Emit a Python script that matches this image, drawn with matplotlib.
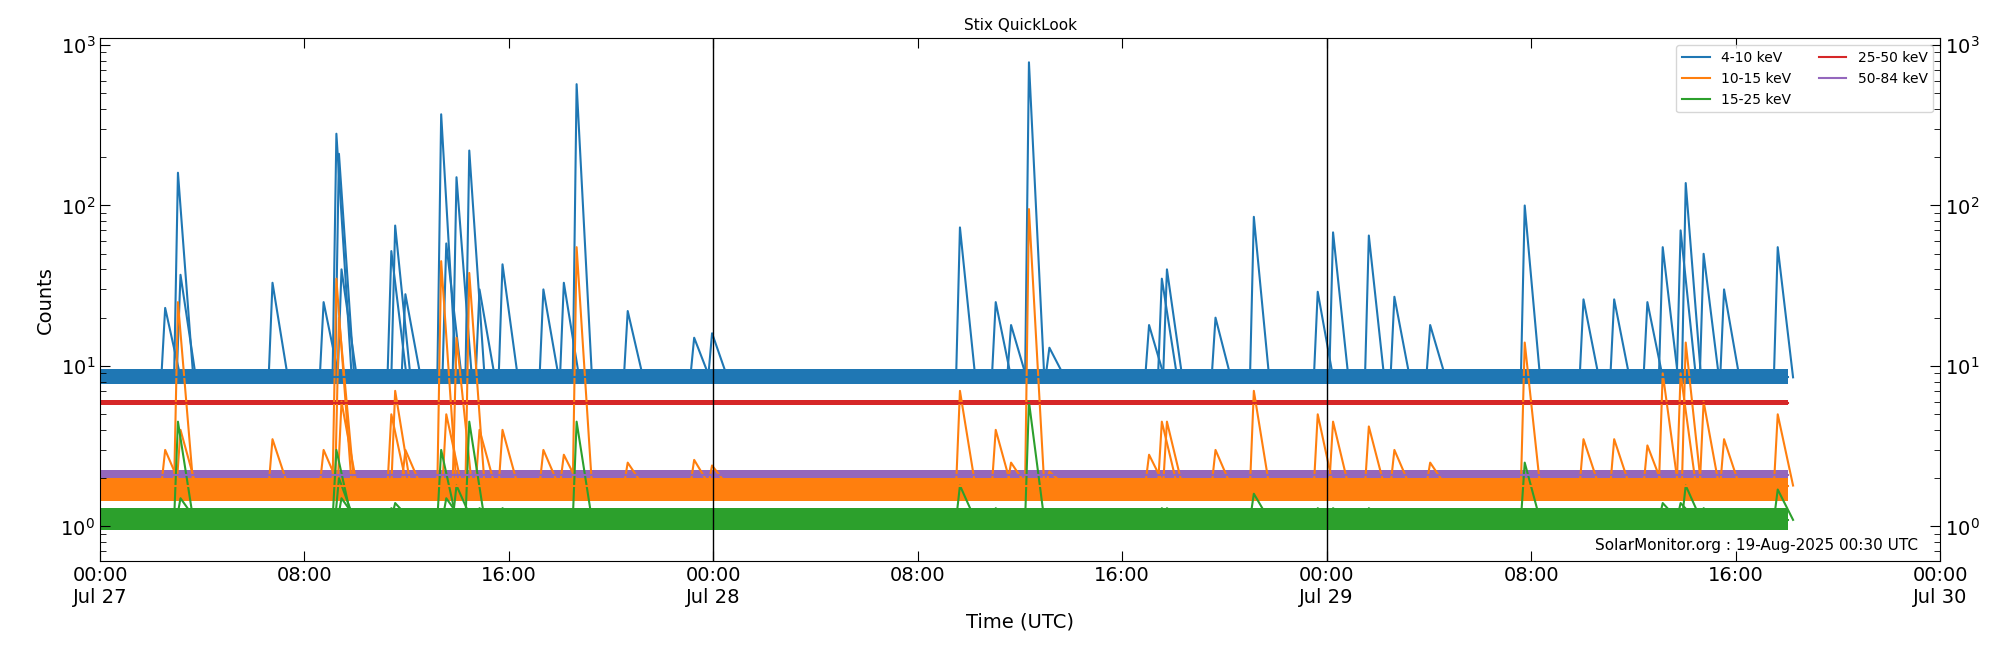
import matplotlib.pyplot as plt

# flare peaks: time (hours since 2025-07-27 00:00 UTC) and counts
peak_t = [2.55, 3.05, 3.15, 6.75, 8.75, 9.25, 9.35, 9.45, 11.4, 11.55, 11.95, 13.35, 13.55, 13.95,
          14.45, 14.85, 15.75, 17.35, 18.15, 18.65, 20.65, 23.25, 23.95, 33.65, 35.05, 35.65, 36.35,
          37.15, 41.05, 41.55, 41.75, 43.65, 45.15, 47.65, 48.25, 49.65, 50.65, 52.05, 55.75, 58.05,
          59.25, 60.55, 61.15, 61.85, 62.05, 62.75, 63.55, 65.65]
blue_pk = [23, 160, 37, 33, 25, 280, 210, 40, 52, 75, 28, 370, 58, 150, 220, 30,
           43, 30, 33, 570, 22, 15, 16, 73, 25, 18, 780, 13, 18, 35, 40,
           20, 85, 29, 68, 65, 27, 18, 100, 26, 26, 25, 55, 70, 138, 50,
           30, 55]
orange_pk = [3, 25, 4, 3.5, 3, 35, 20, 6, 5, 7, 3, 45, 5, 15, 38, 4,
             4, 3, 2.8, 55, 2.5, 2.6, 2.4, 7, 4, 2.5, 95, 2.2, 2.8, 4.5, 4.5,
             3, 7, 5, 4.5, 4.2, 3, 2.5, 14, 3.5, 3.5, 3.2, 9, 9, 14, 6,
             3.5, 5]
green_pk = [1.2, 4.5, 1.5, 1.2, 1.2, 3.0, 2.0, 1.5, 1.3, 1.4, 1.2, 3.0, 1.5, 1.8, 4.5, 1.3,
            1.3, 1.2, 1.2, 4.5, 1.2, 1.2, 1.2, 1.8, 1.3, 1.2, 6.0, 1.2, 1.2, 1.3, 1.3,
            1.2, 1.6, 1.3, 1.3, 1.3, 1.2, 1.2, 2.5, 1.2, 1.2, 1.2, 1.4, 1.4, 1.8, 1.3,
            1.2, 1.7]
rise = 0.15   # hours
decay = 0.6

t_flat = [0.0, 66.05]
base = {"tab:blue": 8.5, "tab:orange": 1.8, "tab:green": 1.1, "tab:purple": 2.1, "tab:red": 5.9}
# spread of the counting noise around each flat level
bands = {"tab:blue": (7.7, 9.6), "tab:orange": (1.45, 2.15), "tab:green": (0.95, 1.3),
         "tab:purple": (2.0, 2.25), "tab:red": (5.7, 6.1)}

xticks = list(range(0, 73, 8))
xlabels = ["00:00\nJul 27", "08:00", "16:00", "00:00\nJul 28", "08:00", "16:00",
           "00:00\nJul 29", "08:00", "16:00", "00:00\nJul 30"]

fig = plt.figure(figsize=(20, 6.5), dpi=100)
ax = fig.add_axes([0.05, 0.137, 0.92, 0.804])

for c, (lo, hi) in bands.items():
    ax.fill_between(t_flat, [lo, lo], [hi, hi], color=c, linewidth=0)

for c, pk in [("tab:blue", blue_pk), ("tab:orange", orange_pk), ("tab:green", green_pk)]:
    for t, v in zip(peak_t, pk):
        ax.plot([t - rise, t, t + decay], [base[c], v, base[c]], color=c, lw=1.5)

names = ["4-10 keV", "10-15 keV", "15-25 keV", "25-50 keV", "50-84 keV"]
for c, n in zip(["tab:blue", "tab:orange", "tab:green", "tab:red", "tab:purple"], names):
    ax.plot(t_flat, [base[c], base[c]], color=c, lw=1.5, label=n)

ax.axvline(24, color="black", lw=1)
ax.axvline(48, color="black", lw=1)

ax.set_yscale("log")
ax.set_ylim(0.61, 1100)
ax.set_xlim(0, 72)
ax.set_xticks(xticks)
ax.set_xticklabels(xlabels)
ax.tick_params(which="both", direction="in", top=True, right=True, labelright=True, labelsize=14)
ax.tick_params(which="major", length=7)
ax.tick_params(which="minor", length=4)
ax.set_xlabel("Time (UTC)", fontsize=14)
ax.set_ylabel("Counts", fontsize=14)
ax.set_title("Stix QuickLook", fontsize=11)
ax.legend(loc="upper right", ncol=2, fontsize=10)
ax.text(0.988, 0.015, "SolarMonitor.org : 19-Aug-2025 00:30 UTC", transform=ax.transAxes,
        ha="right", va="bottom", fontsize=11)

fig.savefig("out.png", dpi=100)
